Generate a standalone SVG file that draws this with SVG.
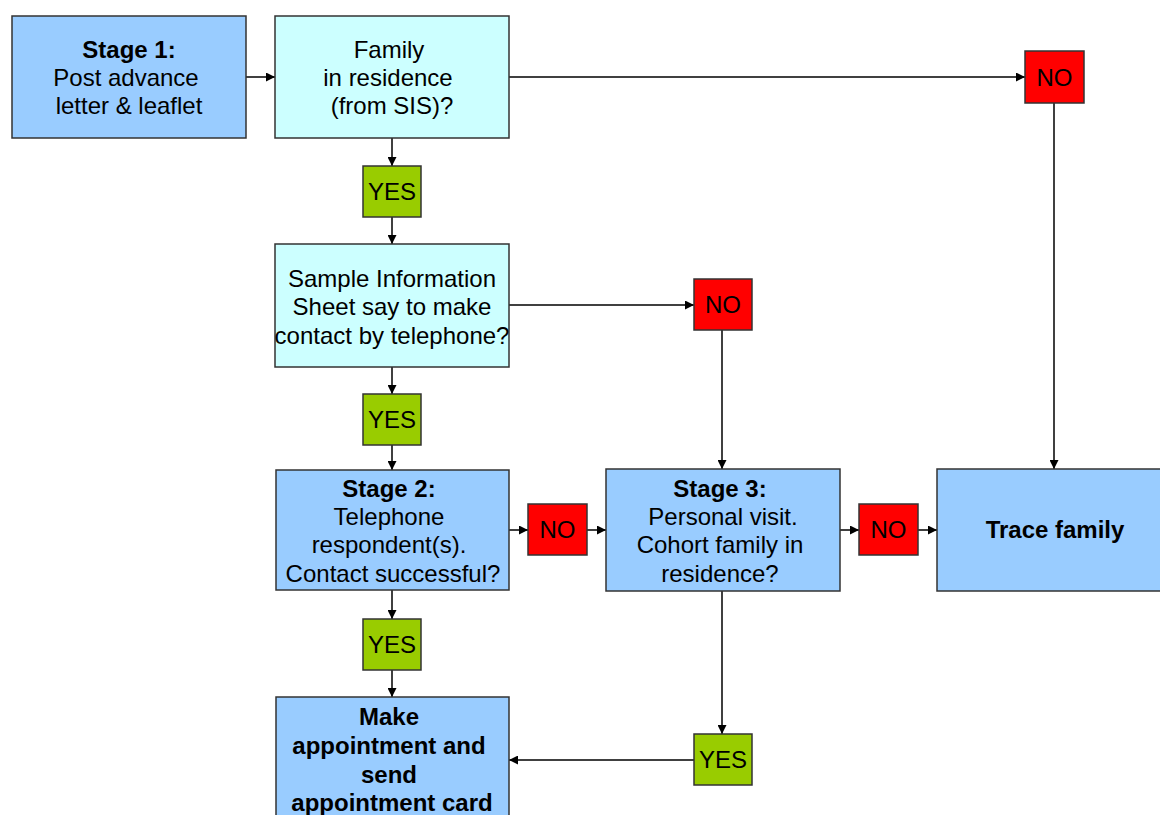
<svg xmlns="http://www.w3.org/2000/svg" width="1160" height="815" viewBox="0 0 1160 815">
<style>
.box{stroke:#333;stroke-width:1.5}
.blue{fill:#99CCFF}
.cyan{fill:#CCFFFF}
.yes{fill:#99CC00}
.no{fill:#FF0000}
text{font-family:"Liberation Sans",Arial,sans-serif;font-size:24px;fill:#000;text-anchor:middle}
.b{font-weight:bold}
.c{stroke:#000;stroke-width:1.5;fill:none;marker-end:url(#ah)}
</style>
<defs>
<marker id="ah" viewBox="0 0 10 10" refX="10" refY="5" markerWidth="9" markerHeight="9" markerUnits="userSpaceOnUse" orient="auto">
<path d="M0,0 L10,5 L0,10 z" fill="#000"/>
</marker>
</defs>
<rect width="1160" height="815" fill="#fff"/>
<g id="connectors">
<line class="c" x1="246" y1="77" x2="275" y2="77"/>
<line class="c" x1="509" y1="77" x2="1025" y2="77"/>
<line class="c" x1="1054" y1="103" x2="1054" y2="469"/>
<line class="c" x1="392" y1="138" x2="392" y2="166"/>
<line class="c" x1="392" y1="217" x2="392" y2="244"/>
<line class="c" x1="509" y1="305" x2="694" y2="305"/>
<line class="c" x1="722" y1="330" x2="722" y2="469"/>
<line class="c" x1="392" y1="367" x2="392" y2="394"/>
<line class="c" x1="392" y1="445" x2="392" y2="470"/>
<line class="c" x1="509" y1="530" x2="528" y2="530"/>
<line class="c" x1="587" y1="530" x2="606" y2="530"/>
<line class="c" x1="840" y1="530" x2="859" y2="530"/>
<line class="c" x1="918" y1="530" x2="937" y2="530"/>
<line class="c" x1="392" y1="590" x2="392" y2="619"/>
<line class="c" x1="392" y1="670" x2="392" y2="697"/>
<line class="c" x1="722" y1="591" x2="722" y2="734"/>
<line class="c" x1="694" y1="760" x2="509" y2="760"/>
</g>
<g id="stage1">
<rect class="box blue" x="12" y="16" width="234" height="122"/>
<text class="b" x="129" y="58">Stage 1:</text>
<text x="126" y="86">Post advance</text>
<text x="129" y="114">letter &amp; leaflet</text>
</g>
<g id="family">
<rect class="box cyan" x="275" y="16" width="234" height="122"/>
<text x="389" y="58">Family</text>
<text x="388" y="86">in residence</text>
<text x="392" y="114">(from SIS)?</text>
</g>
<g id="no1">
<rect class="box no" x="1025" y="51" width="59" height="52"/>
<text x="1054.5" y="86">NO</text>
</g>
<g id="yes1">
<rect class="box yes" x="363" y="166" width="58" height="51"/>
<text x="392" y="200">YES</text>
</g>
<g id="sis">
<rect class="box cyan" x="275" y="244" width="234" height="123"/>
<text x="392" y="287">Sample Information</text>
<text x="392" y="315">Sheet say to make</text>
<text x="392" y="344">contact by telephone?</text>
</g>
<g id="no2">
<rect class="box no" x="694" y="279" width="58" height="51"/>
<text x="723" y="313">NO</text>
</g>
<g id="yes2">
<rect class="box yes" x="363" y="394" width="58" height="51"/>
<text x="392" y="428">YES</text>
</g>
<g id="stage2">
<rect class="box blue" x="276" y="470" width="233" height="120"/>
<text class="b" x="389" y="497">Stage 2:</text>
<text x="389" y="525">Telephone</text>
<text x="389" y="553">respondent(s).</text>
<text x="393" y="582">Contact successful?</text>
</g>
<g id="no3">
<rect class="box no" x="528" y="504" width="59" height="51"/>
<text x="557.5" y="538">NO</text>
</g>
<g id="stage3">
<rect class="box blue" x="606" y="469" width="234" height="122"/>
<text class="b" x="720" y="497">Stage 3:</text>
<text x="723" y="525">Personal visit.</text>
<text x="720" y="553">Cohort family in</text>
<text x="720" y="582">residence?</text>
</g>
<g id="no4">
<rect class="box no" x="859" y="504" width="59" height="51"/>
<text x="888.5" y="538">NO</text>
</g>
<g id="trace">
<rect class="box blue" x="937" y="469" width="236" height="122"/>
<text class="b" x="1055" y="538">Trace family</text>
</g>
<g id="yes3">
<rect class="box yes" x="363" y="619" width="58" height="51"/>
<text x="392" y="653">YES</text>
</g>
<g id="appointment">
<rect class="box blue" x="276" y="697" width="233" height="130"/>
<text class="b" x="389" y="725">Make</text>
<text class="b" x="389" y="754">appointment and</text>
<text class="b" x="389" y="783">send</text>
<text class="b" x="392" y="811">appointment card</text>
</g>
<g id="yes4">
<rect class="box yes" x="694" y="734" width="58" height="51"/>
<text x="723" y="768">YES</text>
</g>
</svg>
